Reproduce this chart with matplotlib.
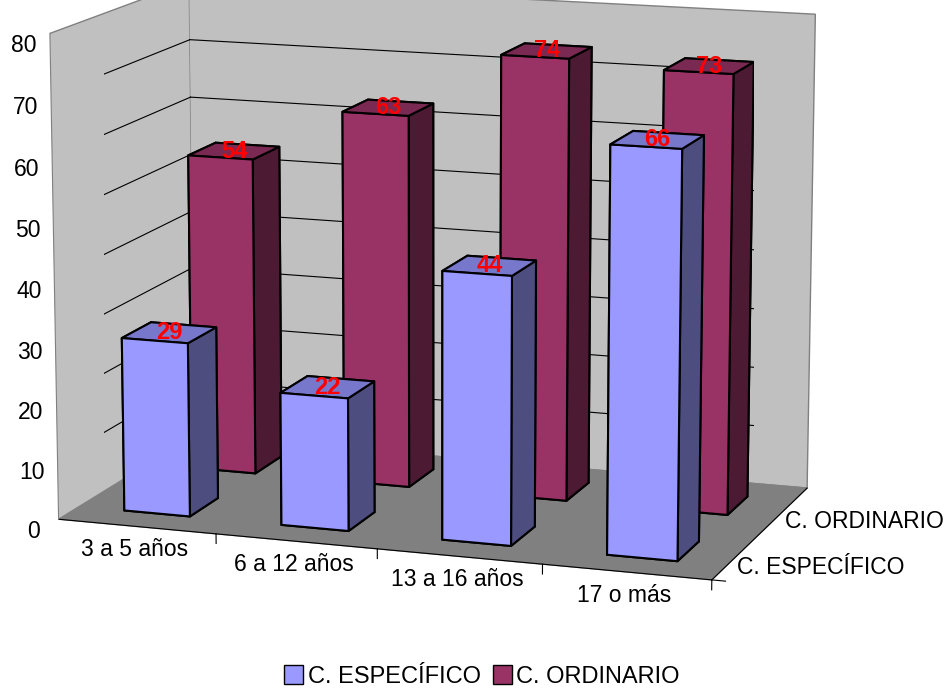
import numpy as np
import matplotlib.pyplot as plt
from matplotlib.patches import Patch
from mpl_toolkits.mplot3d import proj3d

plt.rcParams['font.family'] = ['Liberation Sans', 'DejaVu Sans']

categorias = ['3 a 5 años', '6 a 12 años', '13 a 16 años', '17 o más']
series = ['C. ESPECÍFICO', 'C. ORDINARIO']
especifico = [29, 22, 44, 66]
ordinario = [54, 63, 74, 73]

# front / side / top face colours per series
col_frente = ['#9999FF', '#993366']
col_lado = ['#4D4D80', '#4D1A33']
col_tapa = ['#7777CC', '#7A2952']

fig = plt.figure(figsize=(9.51, 6.91), dpi=100)
ax = fig.add_axes([-0.049, 0.132, 1, 0.94], projection='3d', computed_zorder=False)
ax.set_proj_type('persp', focal_length=1.3)
ax.view_init(elev=12, azim=-71)
ax.set_box_aspect((4.3, 2.3, 3.12), zoom=1.36)

ancho = 0.42
fondo = 0.42
xs, ys, alturas, caras = [], [], [], []
for s, valores in enumerate([especifico, ordinario]):
    for i, v in enumerate(valores):
        xs.append(i + 0.5 - ancho / 2)
        ys.append(s + 0.5 - fondo / 2)
        alturas.append(v)
        # -z, +z, -y, +y, -x, +x
        caras += [col_lado[s], col_tapa[s], col_frente[s],
                  col_frente[s], col_lado[s], col_lado[s]]

ax.set_xlim(0, 4)
ax.set_ylim(0, 2)
ax.set_zlim(0, 80)

# horizontal gridlines on the two walls
zticks = list(range(0, 81, 10))
for z in zticks[1:-1]:
    ax.plot([0, 0], [0, 2], [z, z], color='black', lw=0.8, zorder=1)
    ax.plot([0, 4], [2, 2], [z, z], color='black', lw=0.8, zorder=1)

# tick marks at the category / series boundaries
for k in range(len(categorias) + 1):
    ax.plot([k, k], [0, 0], [0, -1.6], color='black', lw=0.8, zorder=1)
for k in range(len(series) + 1):
    ax.plot([4, 4.08], [k, k], [0, 0], color='black', lw=0.8, zorder=1)

ax.bar3d(xs, ys, np.zeros(len(xs)), ancho, fondo, alturas,
         color=caras, edgecolor='black', linewidth=1.5, shade=False, zorder=2)

ax.grid(False)
ax.xaxis.set_pane_color('#C0C0C0')
ax.yaxis.set_pane_color('#C0C0C0')
ax.zaxis.set_pane_color('#808080')
for a in (ax.xaxis, ax.yaxis, ax.zaxis):
    a.pane.set_edgecolor('#808080')
    a.line.set_color('black')
    a._axinfo['tick']['inward_factor'] = 0
    a._axinfo['tick']['outward_factor'] = 0
ax.zaxis.line.set_color('#808080')

# value axis on the left wall
ax.zaxis._axinfo['juggled'] = (1, 2, 0)

ax.set_xticks([0.5, 1.5, 2.5, 3.5])
ax.set_xticklabels(categorias)
ax.set_yticks([0.5, 1.5])
ax.set_yticklabels(series)
for lbl in ax.get_yticklabels():
    lbl.set_ha('left')
ax.set_zticks(zticks)
ax.tick_params(labelsize=16.5)
ax.tick_params(axis='z', pad=0)
ax.tick_params(axis='x', pad=-3)
ax.tick_params(axis='y', pad=-8)

# value labels on top of each bar, placed in projected coordinates
M = ax.get_proj()
for s, valores in enumerate([especifico, ordinario]):
    for i, v in enumerate(valores):
        px, py, _ = proj3d.proj_transform(i + 0.5, s + 0.5, v, M)
        ax.text2D(px, py, str(v), transform=ax.transData, color='red',
                  fontweight='bold', fontsize=17, ha='center', va='center',
                  zorder=5)

fig.legend(handles=[Patch(facecolor=col_frente[k], edgecolor='black', label=series[k])
                    for k in range(2)],
           loc='lower center', bbox_to_anchor=(0.507, -0.026), ncol=2, frameon=False,
           fontsize=17, handlelength=0.8, handleheight=0.8, handletextpad=0.2,
           columnspacing=0.5)

fig.savefig('out.png', dpi=100)
